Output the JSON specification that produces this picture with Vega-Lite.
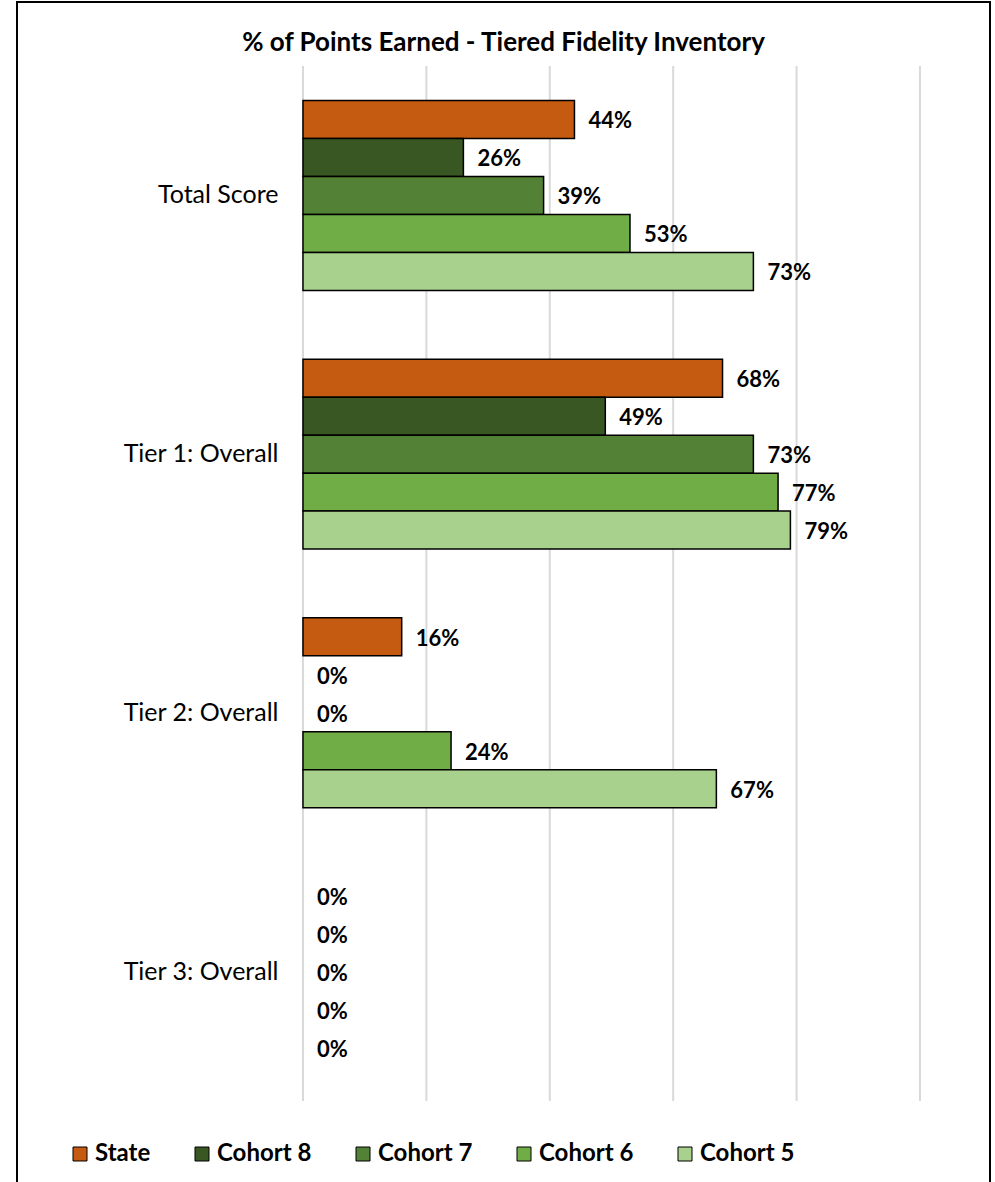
{
  "$schema": "https://vega.github.io/schema/vega-lite/v6.json",
  "width": 973,
  "height": 1195,
  "autosize": "none",
  "padding": {"left": 17, "top": 2, "right": 5, "bottom": 0},
  "background": "white",
  "config": {"view": {"stroke": "black", "strokeWidth": 2}},
  "title": {"text": "% of Points Earned - Tiered Fidelity Inventory", "anchor": "middle", "offset": 0, "dy": 75, "baseline": "alphabetic", "font": "Lato", "fontSize": 26, "fontWeight": "bold", "color": "#000000"},
  "datasets": {
    "bars": [
      {"cat": "Total Score", "series": "State", "value": 0.44},
      {"cat": "Total Score", "series": "Cohort 8", "value": 0.26},
      {"cat": "Total Score", "series": "Cohort 7", "value": 0.39},
      {"cat": "Total Score", "series": "Cohort 6", "value": 0.53},
      {"cat": "Total Score", "series": "Cohort 5", "value": 0.73},
      {"cat": "Tier 1: Overall", "series": "State", "value": 0.68},
      {"cat": "Tier 1: Overall", "series": "Cohort 8", "value": 0.49},
      {"cat": "Tier 1: Overall", "series": "Cohort 7", "value": 0.73},
      {"cat": "Tier 1: Overall", "series": "Cohort 6", "value": 0.77},
      {"cat": "Tier 1: Overall", "series": "Cohort 5", "value": 0.79},
      {"cat": "Tier 2: Overall", "series": "State", "value": 0.16},
      {"cat": "Tier 2: Overall", "series": "Cohort 8", "value": 0},
      {"cat": "Tier 2: Overall", "series": "Cohort 7", "value": 0},
      {"cat": "Tier 2: Overall", "series": "Cohort 6", "value": 0.24},
      {"cat": "Tier 2: Overall", "series": "Cohort 5", "value": 0.67},
      {"cat": "Tier 3: Overall", "series": "State", "value": 0},
      {"cat": "Tier 3: Overall", "series": "Cohort 8", "value": 0},
      {"cat": "Tier 3: Overall", "series": "Cohort 7", "value": 0},
      {"cat": "Tier 3: Overall", "series": "Cohort 6", "value": 0},
      {"cat": "Tier 3: Overall", "series": "Cohort 5", "value": 0}
    ],
    "grid": [{"g": 0}, {"g": 0.2}, {"g": 0.4}, {"g": 0.6}, {"g": 0.8}, {"g": 1.0}]
  },
  "layer": [
    {
      "data": {"name": "grid"},
      "mark": {"type": "rule", "color": "#D9D9D9", "strokeWidth": 2},
      "encoding": {
        "x": {"field": "g", "type": "quantitative", "scale": {"domain": [-0.4635, 1.1135], "nice": false, "zero": false}, "axis": null},
        "y": {"datum": 0, "type": "quantitative", "scale": {"domain": [-0.06184, 1.09275], "reverse": true, "nice": false, "zero": false}, "axis": null},
        "y2": {"datum": 1}
      }
    },
    {
      "data": {"name": "bars"},
      "encoding": {
        "y": {"field": "cat", "type": "nominal", "sort": ["Total Score", "Tier 1: Overall", "Tier 2: Overall", "Tier 3: Overall"],
              "scale": {"paddingInner": 0, "paddingOuter": 0.3092, "align": 0.4},
              "axis": {"title": null, "domain": false, "ticks": false, "tickSize": 0, "labelPadding": 0, "offset": -261, "labelFont": "Lato", "labelFontSize": 25, "labelColor": "#000000", "grid": false, "labelLimit": 400}},
        "yOffset": {"field": "series", "type": "nominal", "sort": ["State", "Cohort 8", "Cohort 7", "Cohort 6", "Cohort 5"],
                    "scale": {"paddingInner": 0, "paddingOuter": 0.9046}},
        "x": {"field": "value", "type": "quantitative", "scale": {"domain": [-0.4635, 1.1135], "nice": false, "zero": false}, "axis": null}
      },
      "layer": [
        {
          "transform": [{"filter": "datum.value > 0"}],
          "mark": {"type": "bar", "stroke": "black", "strokeWidth": 1.5},
          "encoding": {
            "x2": {"datum": 0},
            "color": {"field": "series", "type": "nominal",
                      "scale": {"domain": ["State", "Cohort 8", "Cohort 7", "Cohort 6", "Cohort 5"], "range": ["#C55A11", "#385723", "#538135", "#70AD47", "#A9D18E"]},
                      "legend": {"title": null, "orient": "none", "legendX": 51, "legendY": 1140, "direction": "horizontal", "symbolType": "square", "symbolSize": 196, "symbolStrokeColor": "black", "symbolStrokeWidth": 1, "labelFont": "Lato", "labelFontSize": 24, "labelFontWeight": "bold", "labelColor": "#000000", "columnPadding": 39, "labelOffset": 3}}
          }
        },
        {
          "mark": {"type": "text", "align": "left", "baseline": "middle", "dx": 14, "dy": 2, "font": "Lato", "fontSize": 22, "fontWeight": "bold", "color": "#000000"},
          "encoding": {
            "text": {"field": "value", "type": "quantitative", "format": ".0%"}
          }
        }
      ]
    }
  ],
  "resolve": {"scale": {"y": "independent"}}
}
